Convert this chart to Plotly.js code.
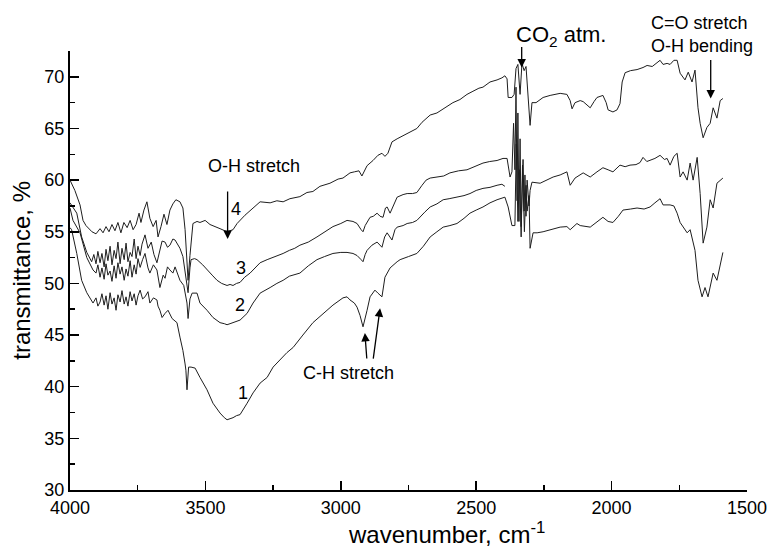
<!DOCTYPE html>
<html>
<head>
<meta charset="utf-8">
<script src="https://cdn.plot.ly/plotly-3.0.1.min.js"></script>
<style>html,body{margin:0;padding:0;background:#fff;}#chart{width:769px;height:547px;}</style>
</head>
<body>
<div id="chart"></div>
<script>
// [wavenumber (cm^-1), transmittance (%)]
const curve4 = [[4000,60.0],[3982,59.0],[3963,57.6],[3952,56.1],[3941,55.6],[3919,55.0],[3904,54.8],[3889,55.3],[3878,54.9],[3867,55.5],[3856,55.0],[3845,55.7],[3834,55.1],[3823,55.9],[3812,54.9],[3801,55.9],[3789,55.4],[3778,56.1],[3767,55.2],[3756,55.7],[3745,56.8],[3738,55.9],[3727,57.1],[3716,57.9],[3705,56.3],[3693,55.5],[3682,56.1],[3675,54.5],[3664,55.5],[3653,56.7],[3642,55.7],[3631,57.1],[3620,57.7],[3609,58.1],[3594,57.9],[3583,57.3],[3575,55.2],[3568,52.0],[3564,50.3],[3557,52.7],[3546,55.8],[3531,56.0],[3520,55.9],[3501,56.1],[3483,55.7],[3446,55.3],[3420,55.0],[3398,55.2],[3383,55.8],[3354,56.6],[3324,57.3],[3298,57.9],[3261,57.8],[3236,58.0],[3213,57.9],[3188,58.2],[3151,58.4],[3125,58.8],[3103,58.9],[3077,59.4],[3040,59.7],[3010,60.1],[2992,60.2],[2966,60.7],[2950,60.8],[2933,60.9],[2922,60.4],[2911,61.0],[2903,61.4],[2881,61.9],[2863,62.4],[2848,62.6],[2837,62.3],[2826,62.6],[2811,63.7],[2792,64.0],[2770,64.3],[2744,64.6],[2719,65.0],[2700,65.6],[2670,66.3],[2645,66.5],[2622,66.9],[2600,67.2],[2586,67.5],[2560,67.8],[2534,68.3],[2512,68.6],[2490,68.9],[2475,69.0],[2449,69.5],[2423,69.7],[2405,69.9],[2394,70.1],[2386,69.8],[2382,68.0],[2368,68.0],[2360,68.3],[2353,70.8],[2346,71.2],[2338,68.3],[2331,71.3],[2323,70.6],[2316,71.0],[2309,68.0],[2301,65.3],[2294,67.5],[2279,67.5],[2253,68.0],[2227,68.2],[2190,68.4],[2165,68.3],[2153,67.7],[2146,66.9],[2135,67.5],[2116,67.7],[2105,67.6],[2090,67.2],[2079,67.0],[2065,67.6],[2054,68.0],[2032,68.2],[2020,67.5],[2013,66.8],[1995,66.6],[1980,66.8],[1969,67.4],[1961,69.5],[1950,70.4],[1930,70.6],[1906,70.7],[1884,70.9],[1869,71.1],[1850,71.0],[1830,71.4],[1821,71.6],[1810,71.2],[1795,71.3],[1784,71.2],[1770,71.6],[1758,71.6],[1747,70.35],[1729,69.7],[1717,70.45],[1703,69.5],[1692,70.65],[1681,67.0],[1673,65.5],[1662,64.1],[1648,65.1],[1636,65.5],[1625,67.0],[1611,66.0],[1599,67.7],[1589,67.9]];

const curve3 = [[4000,57.8],[3975,56.8],[3957,54.5],[3938,53.0],[3920,52.1],[3912,52.8],[3904,51.9],[3897,53.1],[3889,52.0],[3882,52.9],[3874,51.6],[3867,53.3],[3860,52.2],[3852,53.6],[3845,51.8],[3837,53.2],[3830,52.4],[3823,54.0],[3815,51.9],[3808,53.4],[3800,52.3],[3793,53.9],[3786,52.1],[3778,53.0],[3771,52.6],[3763,54.3],[3756,52.4],[3749,53.6],[3741,52.7],[3734,53.8],[3723,54.7],[3712,53.4],[3700,54.0],[3690,52.8],[3679,52.0],[3668,53.2],[3660,54.1],[3649,54.0],[3640,53.5],[3631,53.7],[3620,54.3],[3612,54.2],[3594,53.4],[3583,52.6],[3575,51.3],[3568,49.8],[3564,49.1],[3557,51.5],[3553,52.3],[3540,52.4],[3531,52.3],[3510,51.8],[3494,51.3],[3475,50.8],[3457,50.3],[3440,50.0],[3420,49.8],[3409,49.9],[3398,49.8],[3385,50.0],[3372,50.1],[3355,50.6],[3335,51.0],[3315,51.6],[3298,52.0],[3272,52.3],[3250,52.5],[3230,52.7],[3213,52.9],[3190,53.2],[3170,53.4],[3151,53.7],[3120,54.0],[3088,54.5],[3060,55.0],[3029,55.5],[3000,55.8],[2977,56.1],[2955,56.0],[2940,55.8],[2925,55.2],[2918,55.0],[2910,55.6],[2892,56.4],[2880,56.5],[2866,56.8],[2855,56.5],[2844,56.4],[2835,57.3],[2829,57.4],[2818,56.8],[2800,58.0],[2792,58.35],[2770,58.6],[2755,58.7],[2735,58.7],[2719,58.8],[2700,59.5],[2685,60.0],[2670,60.2],[2645,60.3],[2620,60.4],[2597,60.7],[2565,60.9],[2534,61.0],[2505,61.3],[2475,61.65],[2450,61.8],[2423,61.9],[2401,62.1],[2386,62.1],[2375,60.3],[2368,60.8],[2362,65.5],[2357,61.0],[2353,69.0],[2349,58.0],[2346,66.5],[2342,56.0],[2338,64.0],[2334,55.5],[2327,62.0],[2323,57.0],[2320,60.5],[2316,56.5],[2312,60.0],[2305,57.5],[2301,59.0],[2294,59.8],[2264,59.7],[2240,60.0],[2216,60.3],[2190,60.5],[2165,60.8],[2153,59.5],[2135,60.2],[2105,60.7],[2079,60.3],[2054,60.8],[2032,61.2],[2013,61.0],[1995,60.8],[1969,61.45],[1950,61.3],[1932,61.45],[1910,61.5],[1895,61.7],[1884,62.2],[1870,61.8],[1858,61.9],[1840,62.1],[1821,62.4],[1805,62.0],[1795,62.1],[1784,61.45],[1770,62.3],[1758,62.6],[1747,60.3],[1736,60.8],[1721,60.0],[1710,61.65],[1699,60.0],[1684,62.2],[1673,58.7],[1662,53.9],[1648,55.45],[1636,58.1],[1625,57.3],[1611,59.7],[1589,60.2]];

const curve2 = [[4000,57.3],[3989,56.1],[3963,54.9],[3938,52.5],[3915,51.3],[3904,51.0],[3897,51.8],[3889,50.6],[3882,51.5],[3874,50.4],[3867,51.9],[3860,50.8],[3852,51.2],[3845,50.2],[3837,51.7],[3830,50.5],[3823,52.0],[3815,50.9],[3808,51.6],[3800,50.3],[3793,51.4],[3786,50.7],[3778,52.2],[3771,50.6],[3763,51.8],[3756,50.9],[3749,52.4],[3741,51.55],[3732,52.3],[3723,52.9],[3712,51.5],[3705,51.0],[3692,51.8],[3679,51.3],[3668,49.6],[3656,50.8],[3649,50.5],[3640,51.6],[3631,51.3],[3620,51.0],[3612,51.6],[3594,50.3],[3580,49.8],[3568,48.1],[3564,46.6],[3557,48.5],[3549,49.06],[3531,49.06],[3520,48.1],[3494,47.4],[3472,46.7],[3446,46.2],[3430,46.1],[3420,46.0],[3409,46.1],[3398,46.2],[3385,46.3],[3372,46.45],[3346,47.1],[3324,48.1],[3298,49.06],[3280,49.3],[3261,49.6],[3236,50.0],[3213,50.3],[3190,50.7],[3151,51.0],[3120,51.7],[3088,52.3],[3060,52.6],[3029,52.9],[3000,53.0],[2977,53.0],[2955,52.9],[2940,52.7],[2925,52.3],[2918,52.1],[2910,52.8],[2903,53.2],[2885,53.7],[2866,54.0],[2848,53.5],[2838,54.5],[2829,54.9],[2811,54.2],[2800,55.2],[2792,55.45],[2770,55.6],[2755,55.8],[2735,55.9],[2719,56.1],[2690,56.9],[2670,57.4],[2645,57.7],[2622,58.1],[2600,58.2],[2571,58.35],[2545,58.5],[2523,58.7],[2500,59.0],[2475,59.2],[2449,59.3],[2423,59.5],[2405,59.6],[2394,59.4]];

const curve1 = [[4000,55.4],[3994,55.2],[3975,52.9],[3957,50.3],[3938,49.1],[3915,48.1],[3904,48.6],[3897,47.8],[3889,48.2],[3882,49.0],[3874,47.9],[3867,48.8],[3860,47.5],[3852,49.1],[3845,48.0],[3837,48.6],[3830,47.4],[3823,48.9],[3815,48.2],[3808,49.3],[3800,48.0],[3793,48.7],[3786,47.8],[3778,49.2],[3771,48.3],[3763,49.0],[3756,47.9],[3749,48.8],[3741,49.35],[3732,48.5],[3723,48.7],[3712,49.2],[3705,48.1],[3692,48.6],[3679,48.4],[3675,47.8],[3668,47.4],[3660,46.7],[3649,47.1],[3638,47.4],[3623,46.6],[3605,46.2],[3594,44.8],[3583,43.5],[3575,42.2],[3572,41.6],[3568,39.7],[3562,41.9],[3553,41.9],[3538,41.8],[3520,40.9],[3494,39.7],[3472,38.4],[3446,37.45],[3430,37.0],[3420,36.8],[3409,36.9],[3398,37.0],[3385,37.2],[3372,37.3],[3346,38.4],[3324,39.4],[3298,40.35],[3272,40.9],[3250,41.9],[3224,42.6],[3199,43.3],[3176,43.8],[3151,44.7],[3140,45.0],[3103,46.2],[3066,47.1],[3029,47.9],[2992,48.6],[2977,48.7],[2966,48.4],[2950,48.1],[2940,47.7],[2929,46.9],[2918,45.8],[2911,46.5],[2903,47.4],[2892,48.7],[2874,49.35],[2863,49.06],[2848,48.7],[2837,50.6],[2818,51.5],[2792,52.1],[2781,52.3],[2750,52.6],[2719,52.9],[2695,53.6],[2670,54.5],[2645,55.0],[2622,55.45],[2597,55.6],[2571,55.8],[2545,56.3],[2523,56.8],[2500,57.1],[2475,57.4],[2449,57.8],[2423,58.1],[2394,58.35],[2382,57.4],[2368,55.6],[2357,55.6],[2352,63.5],[2346,56.0],[2340,61.0],[2334,54.5],[2329,61.45],[2322,55.0],[2316,59.5],[2312,57.0],[2305,58.5],[2301,53.4],[2290,54.9],[2275,54.9],[2253,55.0],[2220,55.2],[2190,55.45],[2165,55.5],[2153,55.2],[2128,55.8],[2116,55.6],[2079,55.45],[2055,55.9],[2032,56.4],[2013,56.0],[1995,55.9],[1975,56.5],[1958,57.1],[1930,57.2],[1906,57.3],[1880,57.2],[1858,57.4],[1840,57.8],[1821,58.2],[1810,57.6],[1784,57.6],[1770,57.5],[1758,56.8],[1747,55.9],[1736,55.45],[1721,54.9],[1710,55.2],[1692,53.2],[1681,50.3],[1666,48.7],[1655,49.6],[1644,48.7],[1625,51.0],[1611,50.3],[1589,53.0]];

const curveLabels = ['1','2','3','4'];
const xTickVals = [4000,3500,3000,2500,2000,1500];
const yTickVals = [30,35,40,45,50,55,60,65,70];

const FONT = 'Liberation Sans, Arial, Helvetica, sans-serif';
const LINE = '#1e1e1e';

const traces = [curve1, curve2, curve3, curve4].map((c, i) => ({
  x: c.map(p => p[0]),
  y: c.map(p => p[1]),
  type: 'scatter',
  mode: 'lines',
  name: curveLabels[i],
  line: {color: LINE, width: 1},
  hoverinfo: 'skip'
}));

function label(text, x, y, size) {
  return {text: text, x: x, y: y, xref: 'x', yref: 'y', showarrow: false,
    font: {family: FONT, size: size || 18, color: '#000'}, xanchor: 'center', yanchor: 'middle'};
}
function arrow(x, y, ax, ay) {
  return {text: '', x: x, y: y, xref: 'x', yref: 'y', ax: ax, ay: ay, showarrow: true,
    arrowhead: 2, arrowsize: 1.3, arrowwidth: 1.3, arrowcolor: '#000', standoff: 0, startstandoff: 0};
}

const annotations = [
  label('O-H stretch', 3322, 61.35),
  arrow(3418, 54.3, 0, -49),
  label('4', 3387, 57.2),
  label('3', 3370, 51.5),
  label('2', 3372, 47.9),
  label('1', 3361, 39.4),
  label('C-H stretch', 2970, 41.3),
  arrow(2911, 45.2, 2, 27),
  arrow(2855, 47.6, -7, 52),
  {text: 'CO<sub>2</sub> atm.', x: 2187, y: 1.035, xref: 'x', yref: 'paper', showarrow: false,
   font: {family: FONT, size: 22, color: '#000'}, xanchor: 'center', yanchor: 'middle'},
  arrow(2332, 70.9, 0, -22),
  {text: 'C=O stretch<br>O-H bending', x: 1861, y: 1.038, xref: 'x', yref: 'paper', showarrow: false,
   align: 'left', font: {family: FONT, size: 18, color: '#000'}, xanchor: 'left', yanchor: 'middle'},
  arrow(1634, 67.9, 0, -40),
  {text: 'wavenumber, cm<sup>-1</sup>', x: 0.556, y: -0.098, xref: 'paper', yref: 'paper', showarrow: false,
   font: {family: FONT, size: 24, color: '#000'}, xanchor: 'center', yanchor: 'middle'},
  {text: 'transmittance, %', x: -0.072, y: 0.5, xref: 'paper', yref: 'paper', showarrow: false, textangle: -90,
   font: {family: FONT, size: 24, color: '#000'}, xanchor: 'center', yanchor: 'middle'}
];

const axisCommon = {
  showline: true, linecolor: '#000', linewidth: 2, mirror: false,
  showgrid: false, zeroline: false,
  ticks: 'inside', ticklen: 9, tickwidth: 1.5, tickcolor: '#000',
  tickfont: {family: FONT, size: 18, color: '#000'},
  tickmode: 'array'
};

const layout = {
  width: 769, height: 547,
  margin: {l: 70, r: 22, t: 51, b: 57, pad: 0},
  paper_bgcolor: '#fff', plot_bgcolor: '#fff',
  showlegend: false,
  xaxis: Object.assign({}, axisCommon, {
    range: [4000, 1500], autorange: false,
    tickvals: xTickVals, ticktext: xTickVals.map(String),
    minor: {ticks: 'inside', ticklen: 5, tickwidth: 1.5, tickcolor: '#000', dtick: 250, tick0: 1500, showgrid: false}
  }),
  yaxis: Object.assign({}, axisCommon, {
    range: [30, 72.5], autorange: false,
    tickvals: yTickVals, ticktext: yTickVals.map(String),
    minor: {ticks: 'inside', ticklen: 5, tickwidth: 1.5, tickcolor: '#000', dtick: 2.5, tick0: 30, showgrid: false}
  }),
  annotations: annotations
};

Plotly.newPlot('chart', traces, layout, {staticPlot: true, displayModeBar: false});
</script>
</body>
</html>
